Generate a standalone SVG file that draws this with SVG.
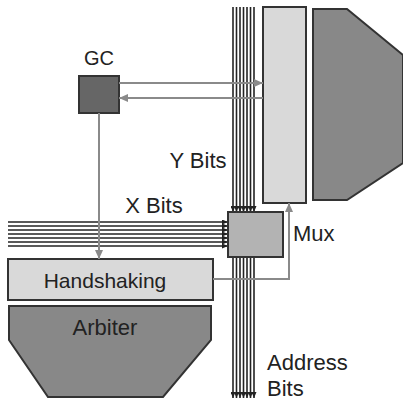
<svg xmlns="http://www.w3.org/2000/svg" width="403" height="403" viewBox="0 0 403 403">
<style>
.lbl{font-family:"Liberation Sans",Arial,sans-serif;font-size:22px;fill:#222}
.bus{stroke:#222;stroke-width:1.6;fill:none}
.conn{stroke:#8a8a8a;stroke-width:2;fill:none}
.box{stroke:#333;stroke-width:2}
</style>
<defs>
<marker id="ba" markerUnits="userSpaceOnUse" markerWidth="6" markerHeight="5" refX="6" refY="2.5" orient="auto">
<path d="M0,0 L6,2.5 L0,5 z" fill="#222"/>
</marker>
<marker id="ga" markerUnits="userSpaceOnUse" markerWidth="9" markerHeight="8" refX="9" refY="4" orient="auto">
<path d="M0,0 L9,4 L0,8 z" fill="#8a8a8a"/>
</marker>
</defs>
<rect width="403" height="403" fill="#fff"/>

<g id="buses">
<g id="ybus">
<line class="bus" x1="233" y1="7" x2="233" y2="212" marker-end="url(#ba)"/>
<line class="bus" x1="236.5" y1="7" x2="236.5" y2="212" marker-end="url(#ba)"/>
<line class="bus" x1="240" y1="7" x2="240" y2="212" marker-end="url(#ba)"/>
<line class="bus" x1="243.5" y1="7" x2="243.5" y2="212" marker-end="url(#ba)"/>
<line class="bus" x1="247" y1="7" x2="247" y2="212" marker-end="url(#ba)"/>
<line class="bus" x1="250.5" y1="7" x2="250.5" y2="212" marker-end="url(#ba)"/>
<line class="bus" x1="254" y1="7" x2="254" y2="212" marker-end="url(#ba)"/>
</g>
<g id="xbus">
<line class="bus" x1="8" y1="222" x2="228" y2="222" marker-end="url(#ba)"/>
<line class="bus" x1="8" y1="226" x2="228" y2="226" marker-end="url(#ba)"/>
<line class="bus" x1="8" y1="230" x2="228" y2="230" marker-end="url(#ba)"/>
<line class="bus" x1="8" y1="234" x2="228" y2="234" marker-end="url(#ba)"/>
<line class="bus" x1="8" y1="238" x2="228" y2="238" marker-end="url(#ba)"/>
<line class="bus" x1="8" y1="242" x2="228" y2="242" marker-end="url(#ba)"/>
<line class="bus" x1="8" y1="246" x2="228" y2="246" marker-end="url(#ba)"/>
</g>
<g id="addrbus">
<line class="bus" x1="233" y1="257" x2="233" y2="398" marker-end="url(#ba)"/>
<line class="bus" x1="236.5" y1="257" x2="236.5" y2="398" marker-end="url(#ba)"/>
<line class="bus" x1="240" y1="257" x2="240" y2="398" marker-end="url(#ba)"/>
<line class="bus" x1="243.5" y1="257" x2="243.5" y2="398" marker-end="url(#ba)"/>
<line class="bus" x1="247" y1="257" x2="247" y2="398" marker-end="url(#ba)"/>
<line class="bus" x1="250.5" y1="257" x2="250.5" y2="398" marker-end="url(#ba)"/>
<line class="bus" x1="254" y1="257" x2="254" y2="398" marker-end="url(#ba)"/>
</g>
</g>

<g id="ydecoder">
<rect class="box" x="263" y="7" width="43" height="196" fill="#d9d9d9"/>
</g>
<g id="array">
<polygon class="box" points="313,9 347,9 403,55 403,163 347,200 313,200" fill="#888"/>
</g>
<g id="gc">
<rect class="box" x="79" y="76" width="40" height="37" fill="#666"/>
<text class="lbl" x="99" y="65" text-anchor="middle" style="font-size:20px">GC</text>
</g>
<g id="mux">
<rect class="box" x="228" y="212" width="55" height="45" fill="#b3b3b3"/>
<text class="lbl" x="293" y="241">Mux</text>
</g>
<g id="handshaking">
<rect class="box" x="8" y="259" width="205" height="41" fill="#d9d9d9"/>
<text class="lbl" x="105" y="288" text-anchor="middle" style="font-size:21px">Handshaking</text>
</g>
<g id="arbiter">
<polygon class="box" points="9,306 211,306 211,340 163,397 48,397 9,340" fill="#888"/>
<text class="lbl" x="105" y="335" text-anchor="middle">Arbiter</text>
</g>

<g id="connectors">
<line class="conn" x1="119" y1="83" x2="263" y2="83" marker-end="url(#ga)"/>
<line class="conn" x1="263" y1="98" x2="119" y2="98" marker-end="url(#ga)"/>
<line class="conn" x1="99" y1="113" x2="99" y2="259" marker-end="url(#ga)"/>
<polyline class="conn" points="213,279 289,279 289,203" marker-end="url(#ga)"/>
</g>

<g id="labels">
<text class="lbl" x="154" y="213" text-anchor="middle">X Bits</text>
<text class="lbl" x="198" y="168" text-anchor="middle">Y Bits</text>
<text class="lbl" x="267" y="370">Address</text>
<text class="lbl" x="267" y="396">Bits</text>
</g>
</svg>
